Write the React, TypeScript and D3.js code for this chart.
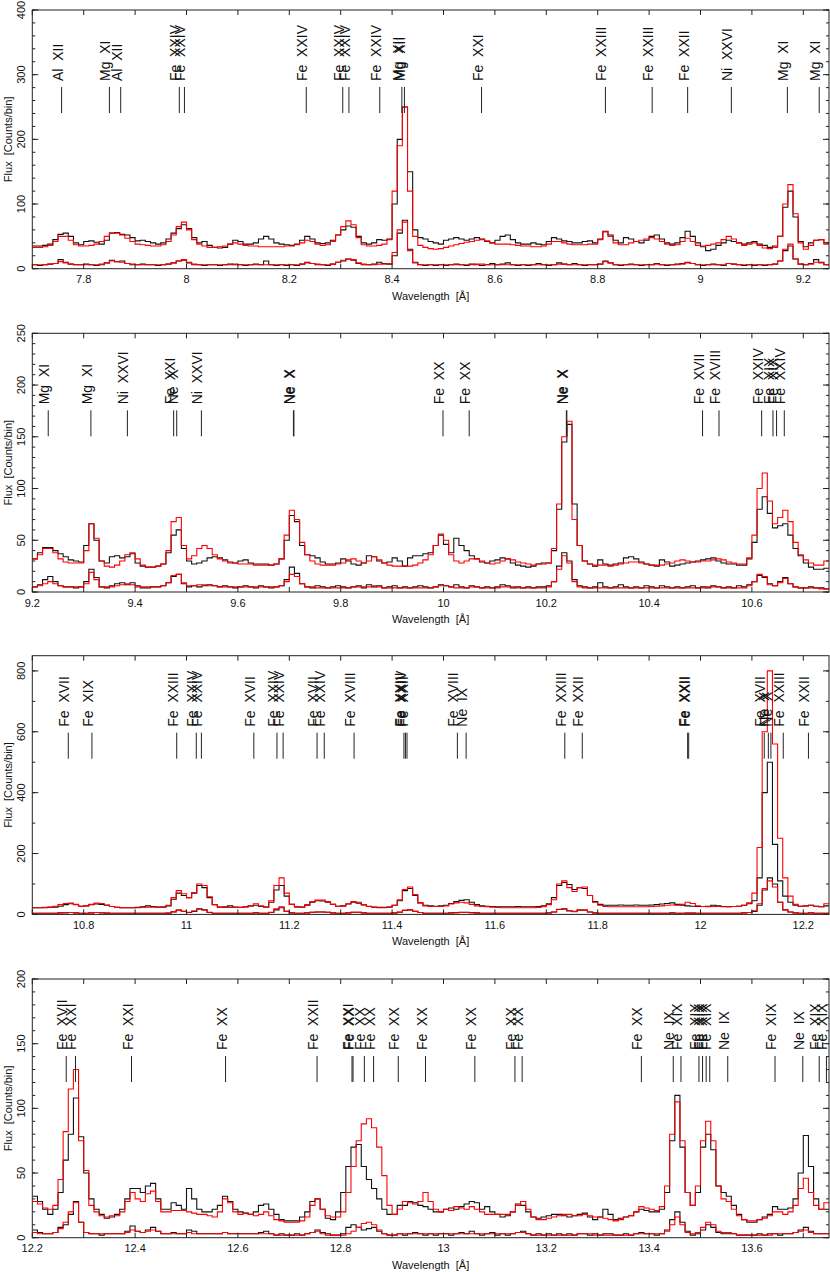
import React from 'react';
import * as d3 from 'd3';

// ---------- data ----------
const BIN = 0.01;
const panelDomains: [number, number][] = [[7.7, 9.25], [9.2, 10.75], [10.7, 12.25], [12.2, 13.75]];
const yMaxes = [400, 250, 850, 200];
const yMajors = [100, 50, 200, 50];
const yMinors = [20, 10, 100, 10];

const p1Obs = [
  35, 35, 36, 38, 45, 53, 55, 50, 40, 37,
  42, 43, 41, 38, 44, 55, 56, 53, 52, 48,
  43, 44, 42, 40, 38, 40, 46, 55, 62, 68,
  62, 48, 40, 42, 36, 33, 32, 33, 38, 44,
  42, 38, 38, 40, 46, 50, 46, 40, 38, 37,
  36, 38, 44, 50, 46, 40, 39, 40, 44, 52,
  60, 66, 64, 50, 40, 38, 40, 45, 44, 46,
  100, 200, 250, 150, 60, 48, 46, 42, 40, 38,
  44, 46, 48, 46, 44, 46, 48, 46, 42, 40,
  44, 50, 52, 45, 40, 38, 38, 40, 38, 37,
  42, 48, 46, 43, 42, 40, 40, 42, 43, 40,
  46, 58, 52, 44, 40, 48, 46, 42, 40, 44,
  50, 52, 46, 40, 38, 40, 48, 58, 50, 40,
  34, 28, 30, 36, 40, 44, 42, 40, 38, 40,
  42, 38, 36, 33, 35, 50, 95, 120, 80, 42,
  34, 40, 44, 45, 40,
];
const p1Mod = [
  33, 33, 34, 36, 42, 50, 50, 44, 37, 35,
  35, 36, 38, 42, 50, 55, 55, 52, 47, 42,
  38, 37, 36, 35, 35, 37, 42, 52, 65, 72,
  60, 45, 38, 35, 33, 33, 34, 35, 38, 40,
  38, 36, 35, 35, 34, 34, 34, 34, 34, 35,
  35, 37, 40, 44, 42, 38, 36, 37, 42, 52,
  65, 74, 68, 48, 37, 35, 35, 36, 38, 45,
  120, 190, 250, 120, 50, 36, 33, 31, 30, 31,
  33, 35, 37, 39, 41, 42, 44, 45, 43, 40,
  38, 38, 38, 37, 36, 35, 35, 34, 34, 35,
  38, 42, 42, 40, 38, 37, 37, 37, 38, 38,
  45, 57, 50, 40, 37, 37, 40, 42, 44, 46,
  48, 46, 42, 38, 36, 37, 42, 47, 42, 36,
  35, 36, 38, 40, 45, 50, 46, 40, 36, 38,
  40, 36, 32, 31, 33, 50, 100, 130, 85, 40,
  30, 36, 44, 45, 38,
];
const p1ObsLow = [
  6, 5, 6, 7, 8, 14, 10, 7, 6, 6,
  7, 6, 5, 6, 9, 13, 11, 12, 8, 6,
  6, 7, 6, 6, 5, 6, 7, 9, 12, 13,
  9, 6, 6, 5, 6, 6, 5, 6, 7, 6,
  6, 5, 6, 7, 6, 12, 6, 5, 6, 5,
  6, 5, 7, 10, 8, 6, 6, 5, 7, 10,
  12, 15, 13, 8, 6, 6, 7, 10, 8, 7,
  20, 55, 75, 30, 10, 6, 5, 6, 5, 6,
  5, 6, 7, 6, 5, 7, 6, 5, 6, 8,
  6, 7, 9, 6, 5, 6, 5, 6, 8, 6,
  5, 6, 9, 7, 6, 8, 6, 5, 6, 6,
  7, 12, 9, 6, 5, 6, 7, 6, 5, 6,
  6, 8, 6, 5, 6, 7, 8, 10, 8, 6,
  5, 6, 7, 6, 5, 8, 7, 6, 5, 6,
  5, 6, 5, 6, 7, 12, 28, 35, 15, 7,
  6, 8, 14, 10, 6,
];
const p1ModLow = [
  6, 6, 6, 7, 8, 11, 9, 7, 6, 6,
  6, 6, 6, 7, 9, 12, 11, 10, 8, 7,
  6, 6, 6, 6, 6, 6, 7, 9, 12, 14,
  10, 7, 6, 6, 6, 6, 6, 6, 6, 7,
  6, 6, 6, 6, 6, 6, 6, 6, 6, 6,
  6, 6, 7, 9, 8, 7, 6, 6, 7, 10,
  13, 15, 14, 9, 7, 6, 6, 7, 7, 8,
  25, 60, 72, 28, 9, 6, 6, 6, 6, 6,
  6, 6, 6, 6, 6, 6, 7, 7, 6, 6,
  6, 6, 6, 6, 6, 6, 6, 6, 6, 6,
  6, 6, 7, 7, 6, 6, 6, 6, 6, 6,
  7, 11, 9, 6, 6, 6, 6, 6, 6, 6,
  6, 7, 6, 6, 6, 6, 7, 9, 8, 6,
  6, 6, 6, 6, 6, 8, 7, 6, 6, 6,
  6, 6, 6, 6, 7, 12, 30, 38, 15, 7,
  6, 7, 10, 9, 6,
];

const p2Obs = [
  32, 38, 43, 43, 40, 37, 34, 31, 30, 29,
  45, 66, 50, 30, 28, 34, 35, 33, 34, 37,
  28, 25, 24, 24, 25, 27, 38, 55, 60, 42,
  30, 27, 28, 30, 33, 34, 33, 31, 29, 28,
  30, 31, 28, 27, 27, 27, 26, 27, 32, 50,
  74, 68, 45, 36, 35, 33, 29, 27, 27, 28,
  32, 30, 27, 26, 28, 35, 34, 30, 28, 29,
  33, 30, 25, 33, 35, 35, 37, 38, 45, 55,
  46, 38, 52, 45, 40, 35, 32, 29, 28, 30,
  31, 33, 32, 28, 26, 25, 24, 25, 27, 28,
  28, 40, 80, 145, 162, 85, 45, 30, 27, 25,
  31, 27, 26, 27, 28, 33, 34, 32, 29, 27,
  26, 25, 31, 29, 25, 26, 27, 28, 29, 30,
  31, 32, 33, 30, 28, 27, 27, 26, 26, 32,
  48, 80, 92, 76, 62, 64, 66, 55, 42, 35,
  28, 24, 22, 22, 23,
];
const p2Mod = [
  32, 36, 42, 42, 38, 32, 29, 28, 28, 28,
  40, 66, 52, 30, 25, 24, 26, 30, 36, 38,
  32, 26, 24, 24, 25, 27, 40, 68, 72, 45,
  32, 35, 42, 45, 42, 36, 32, 30, 28, 28,
  27, 27, 27, 26, 26, 26, 26, 27, 32, 55,
  79, 70, 48, 36, 30, 27, 26, 26, 26, 27,
  28, 31, 32, 30, 28, 30, 34, 31, 28, 26,
  25, 25, 25, 25, 26, 28, 31, 36, 45, 56,
  50, 36, 30, 28, 30, 32, 32, 30, 28, 27,
  28, 30, 32, 31, 29, 28, 27, 26, 27, 27,
  28, 42, 85, 150, 165, 70, 45, 30, 27, 26,
  26, 26, 25, 26, 27, 28, 29, 29, 28, 27,
  26, 26, 26, 27, 28, 30, 31, 30, 29, 29,
  30, 30, 31, 32, 31, 29, 28, 27, 27, 33,
  55, 100, 115, 88, 66, 72, 79, 68, 48, 36,
  31, 28, 26, 26, 30,
];
const p2ObsLow = [
  5, 7, 12, 15, 10, 6, 5, 5, 4, 5,
  10, 22, 14, 5, 4, 6, 8, 9, 7, 9,
  6, 4, 4, 5, 5, 6, 9, 15, 17, 8,
  5, 6, 5, 6, 7, 6, 5, 6, 5, 4,
  5, 6, 5, 4, 6, 5, 4, 5, 6, 12,
  24, 18, 8, 5, 4, 6, 5, 4, 5, 6,
  5, 4, 5, 6, 4, 7, 5, 6, 4, 5,
  6, 4, 5, 4, 5, 6, 5, 4, 5, 7,
  6, 5, 7, 5, 4, 6, 5, 4, 5, 4,
  5, 7, 6, 4, 5, 4, 5, 4, 5, 5,
  6, 10, 25, 38, 30, 12, 6, 5, 4, 5,
  9, 5, 4, 5, 7, 5, 4, 5, 4, 6,
  5, 4, 6, 5, 4, 5, 4, 5, 6, 4,
  5, 4, 6, 5, 4, 5, 4, 6, 5, 7,
  10, 16, 14, 8, 6, 10, 14, 8, 5, 4,
  4, 5, 4, 4, 3,
];
const p2ModLow = [
  5, 6, 8, 10, 8, 6, 5, 5, 5, 5,
  8, 19, 12, 5, 5, 5, 6, 7, 8, 7,
  5, 5, 5, 5, 5, 6, 9, 16, 17, 9,
  6, 6, 7, 7, 6, 6, 5, 5, 5, 5,
  5, 5, 5, 5, 5, 5, 5, 5, 6, 10,
  17, 15, 8, 5, 5, 4, 4, 4, 4, 4,
  4, 4, 5, 5, 5, 5, 6, 5, 4, 4,
  4, 4, 4, 4, 4, 4, 4, 4, 5, 6,
  6, 5, 4, 4, 4, 5, 5, 4, 4, 4,
  4, 5, 5, 5, 4, 4, 4, 4, 4, 4,
  5, 10, 22, 35, 28, 10, 5, 4, 4, 4,
  4, 4, 4, 4, 4, 4, 4, 4, 4, 4,
  4, 4, 4, 4, 4, 4, 4, 4, 4, 4,
  4, 5, 5, 5, 4, 4, 4, 4, 4, 6,
  10, 17, 15, 7, 6, 9, 13, 8, 5, 4,
  4, 4, 4, 3, 3,
];

const p3Obs = [
  22, 22, 22, 23, 24, 27, 32, 35, 32, 27,
  28, 32, 34, 33, 30, 26, 23, 22, 22, 22,
  23, 25, 28, 26, 24, 24, 28, 50, 70, 62,
  55, 70, 95, 88, 55, 32, 24, 25, 28, 24,
  23, 25, 28, 30, 26, 24, 40, 80, 95, 60,
  33, 25, 24, 30, 40, 45, 44, 40, 33, 27,
  28, 34, 40, 37, 31, 27, 24, 23, 23, 24,
  30, 45, 78, 85, 62, 38, 30, 28, 27, 28,
  30, 36, 42, 46, 48, 40, 32, 28, 27, 26,
  25, 25, 25, 25, 26, 25, 25, 25, 26, 28,
  35, 55, 95, 105, 98, 82, 88, 85, 62, 42,
  33, 30, 30, 30, 31, 30, 30, 31, 30, 30,
  31, 32, 34, 36, 38, 33, 30, 28, 27, 26,
  26, 27, 30, 28, 26, 25, 26, 27, 30, 35,
  45, 120, 400, 500, 230, 110, 60, 40, 30, 27,
  28, 30, 27, 25, 28,
];
const p3Mod = [
  22, 22, 23, 24, 27, 32, 36, 37, 33, 27,
  28, 33, 37, 36, 31, 26, 23, 22, 22, 22,
  22, 23, 24, 24, 24, 25, 30, 55, 78, 68,
  55, 72, 100, 95, 58, 32, 24, 23, 23, 23,
  23, 24, 28, 35, 28, 24, 45, 95, 120, 70,
  33, 24, 24, 32, 42, 47, 47, 42, 33, 27,
  27, 35, 42, 40, 32, 26, 23, 22, 22, 24,
  30, 48, 82, 90, 65, 38, 28, 26, 26, 26,
  28, 34, 38, 40, 38, 33, 28, 26, 25, 24,
  23, 22, 22, 22, 22, 22, 22, 22, 23, 25,
  32, 48, 100, 110, 88, 75, 88, 90, 62, 40,
  30, 26, 25, 25, 25, 25, 25, 25, 25, 25,
  26, 27, 28, 30, 31, 30, 33, 40, 36, 28,
  26, 25, 26, 26, 25, 25, 26, 27, 30, 38,
  70, 220, 600, 800, 560, 250, 120, 60, 33, 27,
  28, 30, 27, 25, 35,
];
const p3ObsLow = [
  4, 4, 4, 4, 4, 5, 5, 6, 5, 4,
  4, 5, 6, 5, 4, 4, 4, 4, 4, 4,
  4, 4, 4, 4, 4, 4, 4, 8, 14, 10,
  6, 10, 18, 15, 6, 4, 4, 4, 4, 4,
  4, 4, 4, 5, 4, 4, 6, 15, 22, 10,
  5, 4, 4, 5, 7, 8, 8, 7, 5, 4,
  4, 5, 7, 7, 5, 4, 4, 4, 4, 4,
  5, 7, 13, 15, 10, 6, 4, 4, 4, 4,
  4, 5, 6, 7, 7, 6, 5, 4, 4, 4,
  4, 4, 4, 4, 4, 4, 4, 4, 4, 4,
  5, 8, 16, 18, 12, 10, 14, 14, 8, 5,
  4, 4, 4, 4, 4, 4, 4, 4, 4, 4,
  4, 4, 4, 4, 5, 4, 4, 4, 4, 4,
  4, 4, 4, 4, 4, 4, 4, 4, 5, 6,
  10, 30, 80, 120, 100, 40, 15, 8, 5, 4,
  4, 5, 4, 4, 4,
];
const p3ModLow = [
  4, 4, 4, 4, 4, 5, 6, 6, 5, 4,
  4, 5, 6, 6, 5, 4, 4, 4, 4, 4,
  4, 4, 4, 4, 4, 4, 5, 9, 14, 10,
  7, 11, 17, 15, 7, 4, 4, 4, 4, 4,
  4, 4, 4, 5, 4, 4, 7, 18, 25, 10,
  5, 4, 4, 5, 7, 8, 8, 7, 5, 4,
  4, 5, 7, 7, 5, 4, 4, 4, 4, 4,
  5, 8, 14, 15, 10, 6, 4, 4, 4, 4,
  4, 5, 5, 6, 6, 5, 4, 4, 4, 4,
  4, 4, 4, 4, 4, 4, 4, 4, 4, 4,
  5, 8, 17, 17, 11, 9, 15, 14, 8, 5,
  4, 4, 4, 4, 4, 4, 4, 4, 4, 4,
  4, 4, 4, 4, 4, 4, 4, 5, 5, 4,
  4, 4, 4, 4, 4, 4, 4, 4, 5, 6,
  12, 35, 85, 110, 90, 40, 15, 8, 5, 4,
  4, 5, 4, 4, 4,
];

const p4Obs = [
  32, 28, 22, 18, 22, 35, 60, 80, 108, 78,
  50, 30, 22, 18, 15, 16, 18, 22, 30, 38,
  38, 35, 40, 42, 30, 22, 22, 27, 25, 22,
  38, 30, 22, 20, 20, 22, 25, 32, 28, 22,
  20, 19, 18, 20, 25, 26, 22, 18, 14, 13,
  13, 13, 16, 20, 28, 30, 22, 15, 14, 20,
  35, 55, 70, 72, 55, 45, 38, 30, 22, 18,
  18, 25, 25, 28, 27, 25, 24, 22, 20, 20,
  22, 23, 22, 24, 26, 28, 27, 22, 24, 20,
  18, 16, 17, 20, 26, 25, 20, 16, 15, 16,
  17, 18, 18, 17, 16, 17, 18, 19, 16, 14,
  16, 22, 18, 14, 15, 16, 17, 20, 22, 21,
  20, 20, 22, 35, 75, 110, 70, 35, 25, 35,
  70, 80, 68, 40, 35, 32, 25, 18, 14, 12,
  12, 14, 16, 18, 24, 22, 22, 23, 30, 50,
  79, 55, 30, 22, 22,
];
const p4Mod = [
  28, 26, 23, 22, 25, 45, 82, 115, 130, 75,
  52, 25, 20, 17, 16, 17, 17, 20, 28, 35,
  30, 28, 34, 36, 28, 20, 20, 21, 21, 21,
  20, 19, 18, 18, 17, 16, 20, 30, 27, 20,
  18, 19, 18, 17, 18, 20, 17, 14, 13, 12,
  12, 12, 13, 16, 25, 30, 22, 17, 16, 16,
  20, 35, 55, 75, 88, 92, 85, 70, 48, 25,
  18, 22, 28, 27, 26, 28, 35, 28, 22, 20,
  22, 21, 24, 23, 22, 24, 22, 20, 18, 18,
  18, 18, 18, 20, 25, 28, 22, 16, 14, 14,
  15, 16, 17, 18, 18, 17, 17, 18, 17, 16,
  16, 15, 14, 13, 14, 16, 17, 20, 24, 23,
  22, 21, 24, 40, 80, 105, 75, 35, 25, 40,
  75, 90, 75, 40, 30, 28, 22, 17, 14, 13,
  13, 14, 15, 17, 20, 20, 18, 20, 25, 38,
  46, 35, 25, 22, 27,
];
const p4ObsLow = [
  6, 4, 3, 3, 4, 8, 10, 18, 28, 12,
  4, 3, 3, 2, 3, 3, 3, 3, 5, 9,
  5, 4, 6, 8, 5, 3, 3, 4, 3, 3,
  6, 5, 3, 3, 3, 3, 3, 4, 3, 3,
  3, 3, 3, 3, 4, 5, 3, 2, 3, 2,
  2, 3, 2, 3, 4, 6, 4, 3, 2, 2,
  3, 8, 10, 8, 6, 7, 8, 5, 3, 2,
  2, 3, 2, 3, 4, 3, 2, 3, 2, 3,
  3, 2, 3, 4, 3, 5, 3, 2, 3, 4,
  2, 3, 2, 3, 4, 5, 3, 2, 3, 2,
  3, 2, 3, 2, 3, 2, 3, 3, 2, 3,
  2, 3, 3, 2, 2, 3, 2, 3, 4, 3,
  3, 2, 3, 6, 14, 20, 12, 5, 2, 3,
  6, 10, 8, 4, 3, 3, 3, 2, 2, 2,
  2, 3, 2, 3, 3, 2, 3, 3, 4, 6,
  8, 5, 3, 3, 3,
];
const p4ModLow = [
  4, 3, 3, 3, 4, 7, 12, 20, 27, 12,
  4, 3, 3, 3, 3, 3, 3, 3, 4, 6,
  5, 4, 5, 6, 5, 3, 3, 3, 3, 3,
  4, 3, 3, 3, 3, 3, 3, 4, 3, 3,
  3, 3, 3, 3, 3, 3, 3, 2, 2, 2,
  2, 2, 2, 3, 4, 5, 3, 2, 2, 2,
  2, 3, 5, 8, 11, 12, 10, 6, 3, 2,
  2, 3, 3, 3, 3, 3, 3, 3, 3, 3,
  3, 3, 3, 3, 3, 3, 3, 3, 3, 3,
  3, 3, 3, 3, 4, 4, 3, 2, 2, 2,
  2, 2, 2, 2, 2, 2, 3, 3, 3, 2,
  2, 2, 2, 2, 2, 2, 2, 3, 3, 3,
  3, 3, 3, 5, 10, 16, 10, 4, 3, 4,
  8, 12, 10, 5, 4, 4, 3, 2, 2, 2,
  2, 2, 2, 2, 3, 3, 3, 3, 4, 5,
  6, 4, 3, 3, 3,
];

// line identifications: [label, wavelength]
const p1Lines: [string, number][] = [
  ['Al  XII', 7.757], ['Mg  XI', 7.850], ['Al  XII', 7.872], ['Fe  XXIV', 7.986], ['Fe  XXIV', 7.996],
  ['Fe  XXIV', 8.233], ['Fe  XXIV', 8.304], ['Fe  XXIV', 8.316], ['Fe  XXIV', 8.376], ['Mg  XII', 8.419],
  ['Mg  XII', 8.424], ['Fe  XXI', 8.574], ['Fe  XXIII', 8.815], ['Fe  XXIII', 8.906], ['Fe  XXII', 8.975],
  ['Ni  XXVI', 9.060], ['Mg  XI', 9.169], ['Mg  XI', 9.231],
];
const p2Lines: [string, number][] = [
  ['Mg  XI', 9.231], ['Mg  XI', 9.314], ['Ni  XXVI', 9.385], ['Fe  XXI', 9.475], ['Ne  X', 9.481],
  ['Ni  XXVI', 9.529], ['Ne  X', 9.708], ['Ne  X', 9.709], ['Fe  XX', 9.999], ['Fe  XX', 10.050],
  ['Ne  X', 10.239], ['Ne  X', 10.240], ['Fe  XVII', 10.504], ['Fe  XVIII', 10.536], ['Fe  XXIV', 10.619],
  ['Fe  XIX', 10.641], ['Fe  XIX', 10.648], ['Fe  XXIV', 10.663],
];
const p3Lines: [string, number][] = [
  ['Fe  XVII', 10.770], ['Fe  XIX', 10.816], ['Fe  XXIII', 10.981], ['Fe  XXIV', 11.019], ['Fe  XXIV', 11.029],
  ['Fe  XVII', 11.131], ['Fe  XXIV', 11.176], ['Fe  XXIV', 11.188], ['Fe  XVII', 11.254], ['Fe  XXIV', 11.268],
  ['Fe  XVIII', 11.326], ['Fe  XXIII', 11.423], ['Fe  XXIV', 11.426], ['Fe  XXII', 11.429], ['Fe  XVIII', 11.527],
  ['Ne  IX', 11.544], ['Fe  XXIII', 11.736], ['Fe  XXII', 11.770], ['Fe  XXII', 11.975], ['Fe  XXII', 11.977],
  ['Fe  XVII', 12.124], ['Ne  X', 12.132], ['Ne  X', 12.137], ['Fe  XXIII', 12.161], ['Fe  XXII', 12.210],
];
const p4Lines: [string, number][] = [
  ['Fe  XVII', 12.266], ['Fe  XXI', 12.284], ['Fe  XXI', 12.393], ['Fe  XX', 12.576], ['Fe  XXII', 12.754],
  ['Fe  XXI', 12.822], ['Fe  XX', 12.824], ['Fe  XX', 12.846], ['Fe  XX', 12.864], ['Fe  XX', 12.912],
  ['Fe  XX', 12.965], ['Fe  XX', 13.061], ['Fe  XX', 13.139], ['Fe  XX', 13.153], ['Fe  XX', 13.385],
  ['Ne  IX', 13.447], ['Fe  XIX', 13.462], ['Fe  XIX', 13.497], ['Fe  XIX', 13.504], ['Fe  XIX', 13.511],
  ['Fe  XIX', 13.518], ['Ne  IX', 13.553], ['Fe  XIX', 13.645], ['Ne  IX', 13.699], ['Fe  XIX', 13.731],
  ['Fe  XIX', 13.745],
];

const panelSeries = [
  [p1Obs, p1Mod, p1ObsLow, p1ModLow],
  [p2Obs, p2Mod, p2ObsLow, p2ModLow],
  [p3Obs, p3Mod, p3ObsLow, p3ModLow],
  [p4Obs, p4Mod, p4ObsLow, p4ModLow],
];
const panelLines = [p1Lines, p2Lines, p3Lines, p4Lines];

// ---------- layout ----------
const W = 830;
const H = 1272;
const LEFT = 32.3;
const RIGHT = 829;
const PANEL_TOPS = [10, 333.3, 655.7, 979];
const PANEL_H = 258.7;
const FONT = '"Liberation Sans", Arial, Helvetica, sans-serif';
const seriesColors = ['#111', '#ff0000', '#111', '#ff0000'];

function Panel({ idx }: { idx: number }) {
  const [d0, d1] = panelDomains[idx];
  const top = PANEL_TOPS[idx];
  const bottom = top + PANEL_H;
  const x = d3.scaleLinear().domain([d0, d1]).range([LEFT, RIGHT]);
  const y = d3.scaleLinear().domain([0, yMaxes[idx]]).range([bottom, top]);

  const line = d3
    .line<[number, number]>()
    .x((d) => x(d[0]))
    .y((d) => y(d[1]))
    .curve(d3.curveStepAfter);

  const makePts = (vals: number[]): [number, number][] => {
    const pts: [number, number][] = vals.map((v, i) => [d0 + i * BIN, v]);
    pts.push([d0 + vals.length * BIN, vals[vals.length - 1]]);
    return pts;
  };

  const xTickKs = d3.range(Math.ceil(d0 * 10 - 1e-6), Math.floor(d1 * 10 + 1e-6) + 1);
  const yMajorTicks = d3.range(0, yMaxes[idx] + 1e-6, yMajors[idx]);
  const yMinorTicks = d3.range(0, yMaxes[idx] + 1e-6, yMinors[idx]);
  const clipId = `clip${idx}`;
  const fmtX = (k: number) => String(Math.round(k) / 10);

  return (
    <g>
      <defs>
        <clipPath id={clipId}>
          <rect x={LEFT} y={top} width={RIGHT - LEFT} height={PANEL_H} />
        </clipPath>
      </defs>
      {/* spectra */}
      <g clipPath={`url(#${clipId})`}>
        {[0, 2, 1, 3].map((si) => (
          <path
            key={si}
            d={line(makePts(panelSeries[idx][si])) || ''}
            fill="none"
            stroke={seriesColors[si]}
            strokeWidth={1.1}
          />
        ))}
      </g>
      {/* line identifications */}
      {panelLines[idx].map(([lab, w], i) => {
        const xx = x(w);
        return (
          <g key={i}>
            <line x1={xx} x2={xx} y1={top + 77} y2={top + 103} stroke="#222" strokeWidth={1} />
            <text
              transform={`translate(${xx + 1},${top + 71}) rotate(-90)`}
              fontSize={14}
              fontFamily={FONT}
              fill="#111"
              style={{ whiteSpace: 'pre' }}
            >
              {lab}
            </text>
          </g>
        );
      })}
      {/* frame */}
      <rect x={LEFT} y={top} width={RIGHT - LEFT} height={PANEL_H} fill="none" stroke="#222" strokeWidth={1} />
      {/* x ticks */}
      {xTickKs.map((k) => {
        const xx = x(k / 10);
        return (
          <g key={k}>
            <line x1={xx} x2={xx} y1={bottom} y2={bottom - 5} stroke="#222" />
            <line x1={xx} x2={xx} y1={top} y2={top + 5} stroke="#222" />
            {k % 2 === 0 && (
              <text x={xx} y={bottom + 14.5} fontSize={11} fontFamily={FONT} textAnchor="middle" fill="#111">
                {fmtX(k)}
              </text>
            )}
          </g>
        );
      })}
      {/* y ticks */}
      {yMinorTicks.map((v) => (
        <g key={`m${v}`}>
          <line x1={LEFT} x2={LEFT + 3} y1={y(v)} y2={y(v)} stroke="#222" />
          <line x1={RIGHT} x2={RIGHT - 3} y1={y(v)} y2={y(v)} stroke="#222" />
        </g>
      ))}
      {yMajorTicks.map((v) => (
        <g key={`M${v}`}>
          <line x1={LEFT} x2={LEFT + 6} y1={y(v)} y2={y(v)} stroke="#222" />
          <line x1={RIGHT} x2={RIGHT - 6} y1={y(v)} y2={y(v)} stroke="#222" />
          <text
            transform={`translate(25,${y(v)}) rotate(-90)`}
            fontSize={11}
            fontFamily={FONT}
            textAnchor="middle"
            fill="#111"
          >
            {v}
          </text>
        </g>
      ))}
      {/* axis titles */}
      <text
        x={(LEFT + RIGHT) / 2}
        y={bottom + 31}
        fontSize={11}
        fontFamily={FONT}
        textAnchor="middle"
        fill="#111"
        style={{ whiteSpace: 'pre' }}
      >
        {'Wavelength  [Å]'}
      </text>
      <text
        transform={`translate(11.5,${(top + bottom) / 2}) rotate(-90)`}
        fontSize={11}
        fontFamily={FONT}
        textAnchor="middle"
        fill="#111"
        style={{ whiteSpace: 'pre' }}
      >
        {'Flux  [Counts/bin]'}
      </text>
    </g>
  );
}

export default function App() {
  return (
    <svg
      width={W}
      height={H}
      viewBox={`0 0 ${W} ${H}`}
      style={{ position: 'absolute', left: 0, top: 0, background: '#fff' }}
    >
      <rect x={0} y={0} width={W} height={H} fill="#fff" />
      {[0, 1, 2, 3].map((i) => (
        <Panel key={i} idx={i} />
      ))}
    </svg>
  );
}
